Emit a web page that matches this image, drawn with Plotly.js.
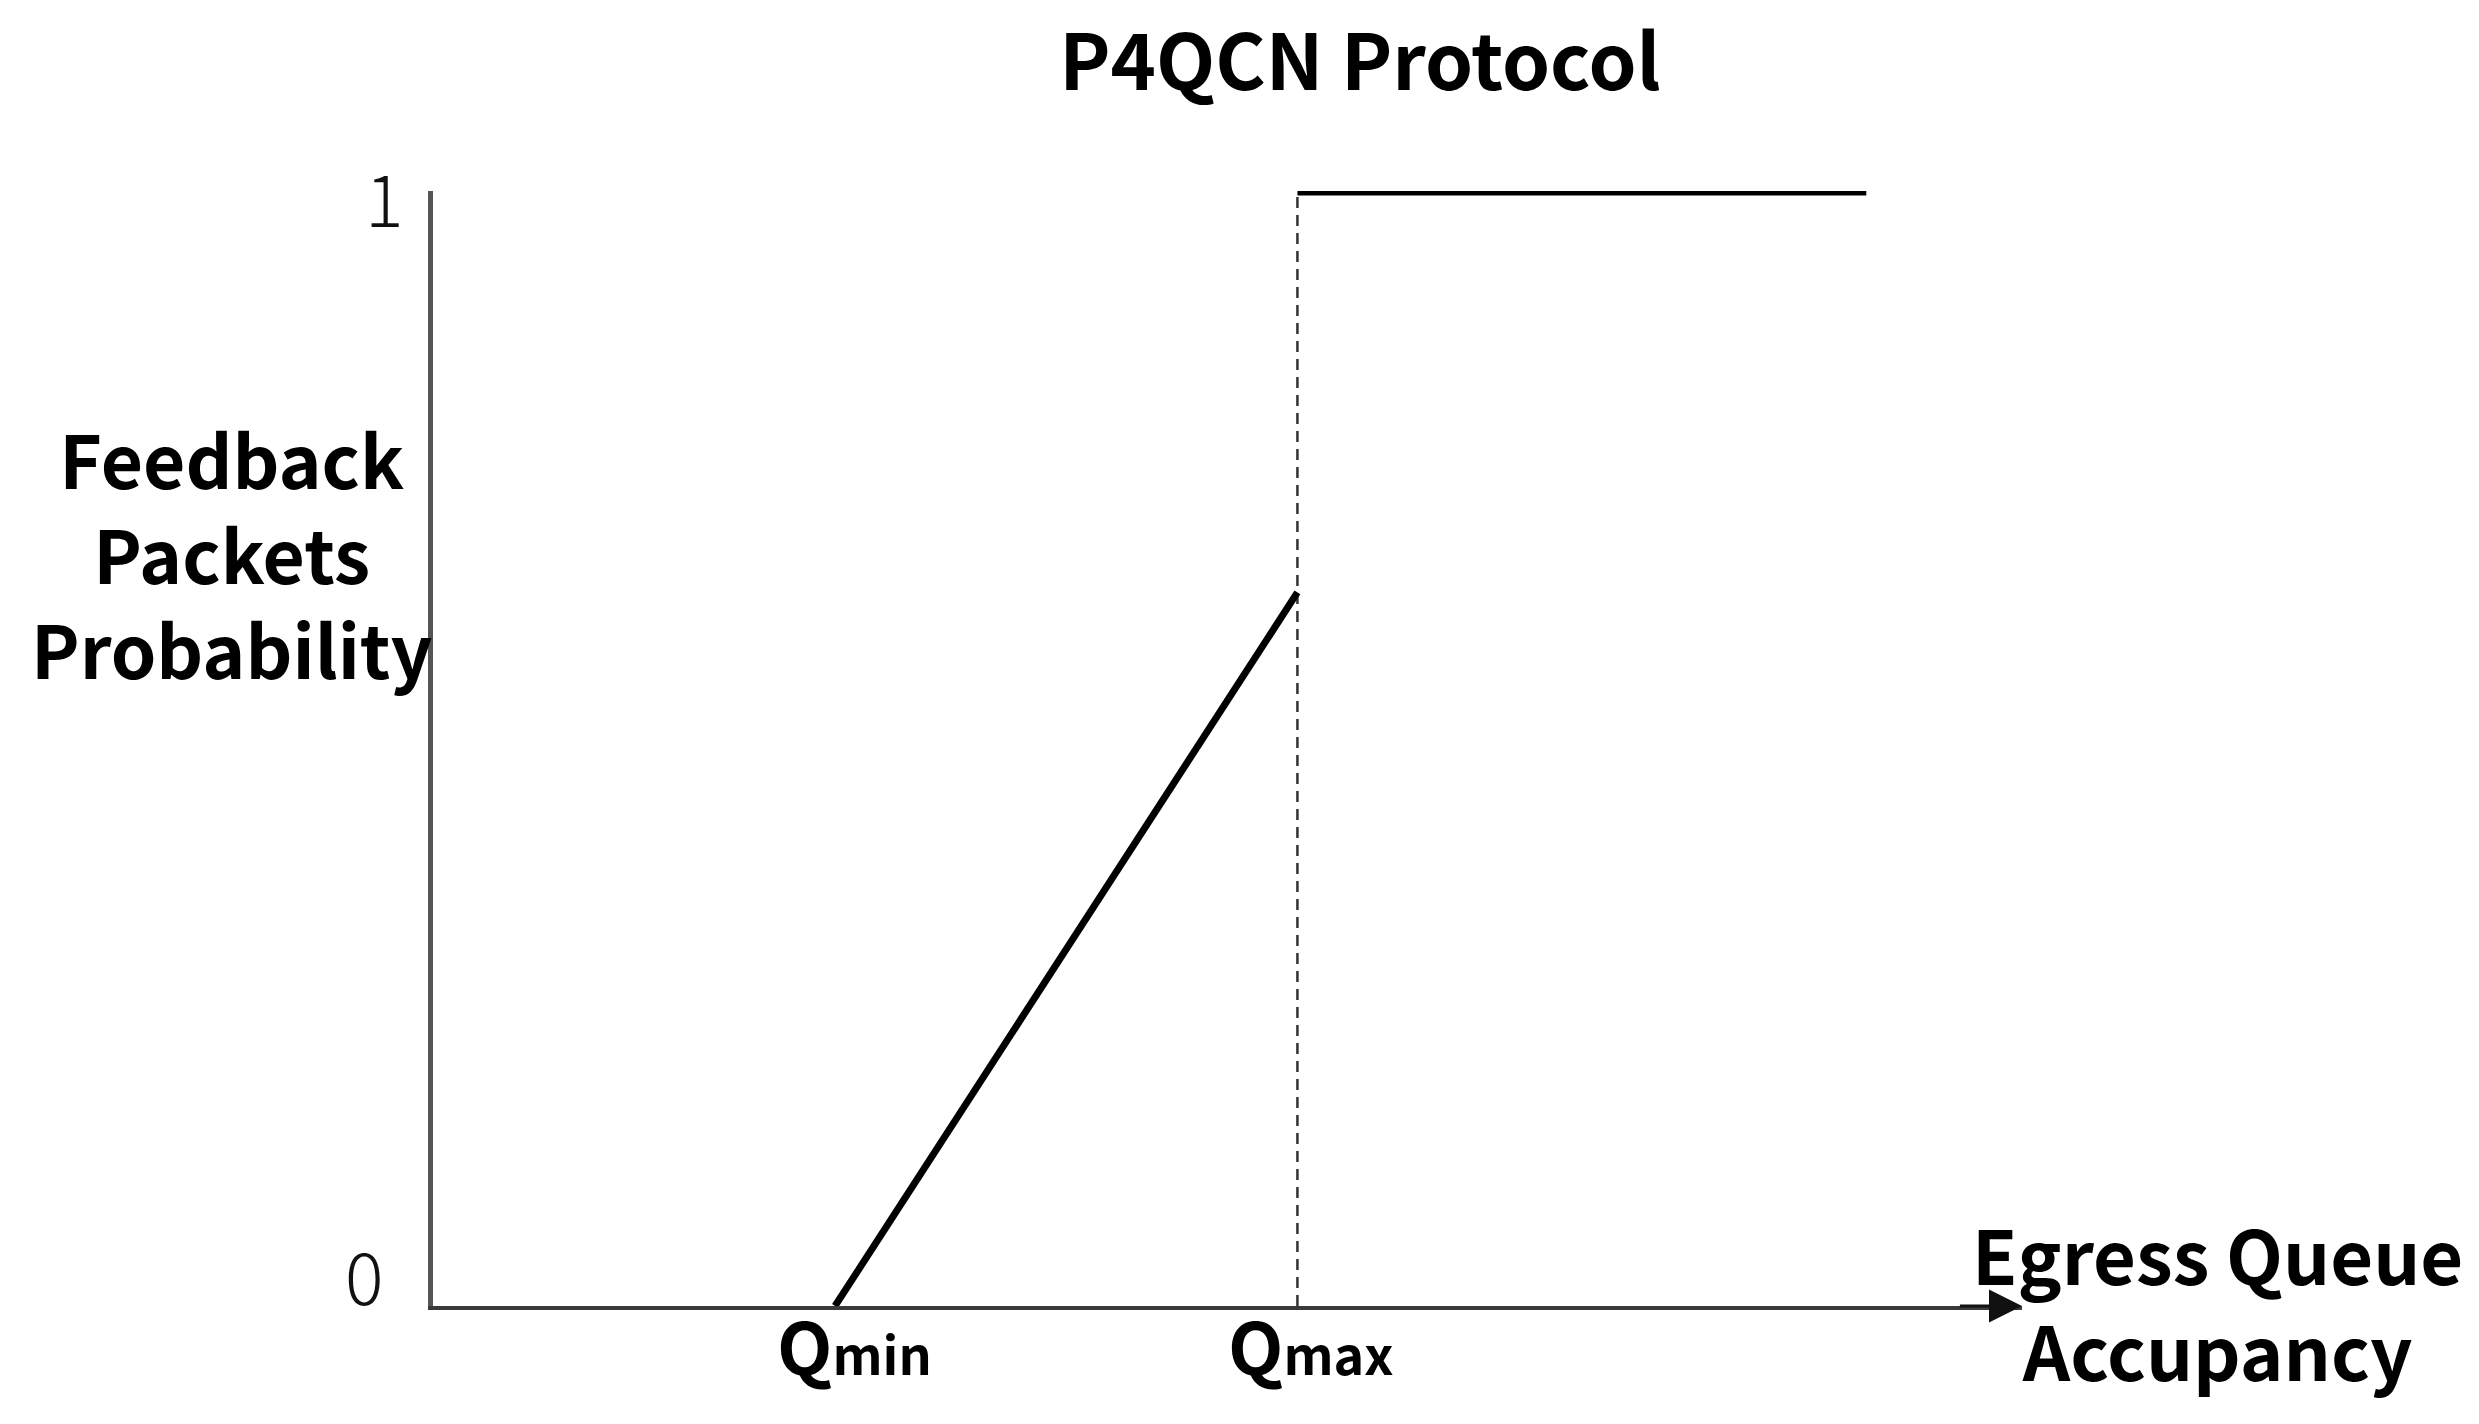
<!DOCTYPE html>
<html>
<head>
<meta charset="utf-8">
<script src="https://cdn.plot.ly/plotly-3.0.1.min.js"></script>
<style>html,body{margin:0;padding:0;background:#fff;}</style>
</head>
<body>
<div id="chart" style="width:2479px;height:1424px;"></div>
<script>
// ---- data ----
const qLabels = ['Q', 'Q'];
const qSubs = ['min', 'max'];
const qValues = [2.53, 5.44];          // Qmin, Qmax positions on queue axis
const rampX = [2.53, 5.44];
const rampY = [0, 0.64];
const stepX = [5.44, 9.02];
const stepY = [1, 1];
const markerX = [5.44, 5.44];
const markerY = [0, 1];
const yTickVals = [0, 1];
const yTickText = ['0', '1'];
const xMax = 10;

const FONT = '"Noto Sans CJK SC", "Noto Sans", sans-serif';

const traces = [
  {x: markerX, y: markerY, mode: 'lines', line: {color: '#333', width: 2.5, dash: '11px,7px'}, hoverinfo: 'skip'},
  {x: rampX, y: rampY, mode: 'lines', line: {color: '#000', width: 7}, hoverinfo: 'skip'},
  {x: stepX, y: stepY, mode: 'lines', line: {color: '#000', width: 9}, hoverinfo: 'skip'}
];

const annotations = [];
// y tick labels
const tickShifts = [{xs: -69, ys: 33}, {xs: -49, ys: -4}];
yTickVals.forEach((v, i) => {
  annotations.push({
    xref: 'paper', yref: 'y', x: 0, y: v, text: yTickText[i], showarrow: false,
    xanchor: 'center', yanchor: 'middle', xshift: tickShifts[i].xs, yshift: tickShifts[i].ys,
    font: {family: FONT, size: 72, color: '#111', weight: 300}
  });
});
// Qmin / Qmax labels
const qShifts = [19, 14];
qValues.forEach((v, i) => {
  annotations.push({
    xref: 'x', yref: 'y', x: v, y: 0,
    text: qLabels[i] + '<span style="font-size:52px">' + qSubs[i] + '</span>',
    showarrow: false, xanchor: 'center', yanchor: 'middle', xshift: qShifts[i], yshift: -37,
    font: {family: FONT, size: 72, color: '#000', weight: 'bold'}
  });
});
// x axis arrow
annotations.push({
  xref: 'x', yref: 'y', axref: 'x', ayref: 'y', x: xMax, y: 0, ax: xMax - 0.4, ay: 0,
  text: '', showarrow: true, arrowhead: 2, arrowsize: 2.2, arrowwidth: 3, arrowcolor: '#111'
});
// x axis title
annotations.push({
  xref: 'paper', yref: 'y', x: 1.1233, y: 0, yshift: 6,
  text: 'Egress Queue<br>Accupancy', showarrow: false, xanchor: 'center', yanchor: 'middle', align: 'center',
  font: {family: FONT, size: 74, color: '#000', weight: 'bold'}
});
// y axis title
annotations.push({
  xref: 'paper', yref: 'y', x: -0.1265, y: 0.671, yshift: 6,
  text: 'Feedback<br>Packets<br>Probability', showarrow: false, xanchor: 'center', yanchor: 'middle', align: 'center',
  font: {family: FONT, size: 73, color: '#000', weight: 'bold'}
});

const layout = {
  width: 2479, height: 1424,
  paper_bgcolor: '#fff', plot_bgcolor: '#fff',
  margin: {l: 433, r: 2479 - 2022, t: 191, b: 1424 - 1306, pad: 0},
  showlegend: false,
  title: {
    text: 'P4QCN Protocol', xref: 'container', yref: 'container',
    x: 1360 / 2479, xanchor: 'center', y: 1 - 63 / 1424, yanchor: 'middle',
    font: {family: FONT, size: 77, color: '#000', weight: 'bold'}
  },
  xaxis: {range: [0, xMax], showgrid: false, zeroline: false, showticklabels: false, ticks: '',
          showline: true, linecolor: '#3a3a3a', linewidth: 4, fixedrange: true},
  yaxis: {range: [0, 1], showgrid: false, zeroline: false, showticklabels: false, ticks: '',
          showline: true, linecolor: '#555', linewidth: 5, fixedrange: true},
  annotations: annotations
};

Plotly.newPlot('chart', traces, layout, {displayModeBar: false, staticPlot: true});
</script>
</body>
</html>
